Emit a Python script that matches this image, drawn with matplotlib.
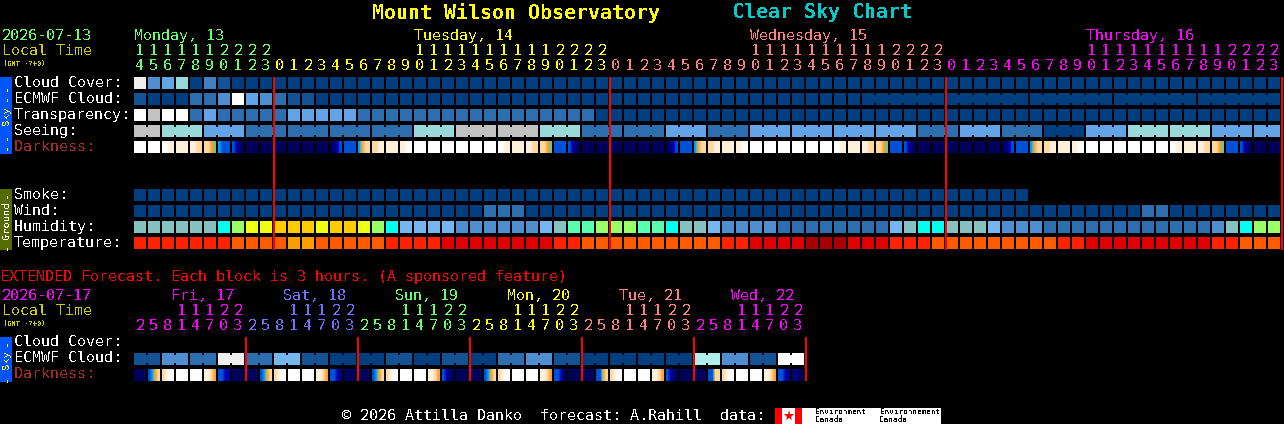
import numpy as np
import matplotlib
matplotlib.use('Agg')
import matplotlib.pyplot as plt
from matplotlib.colors import LinearSegmentedColormap

plt.rcParams['font.family'] = ['DejaVu Sans Mono']
plt.rcParams['text.antialiased'] = False
plt.rcParams['text.hinting'] = 'native'

# colour scales
CLOUD_COLORS = {0: '#003f7f', 10: '#135393', 20: '#2c6eae', 30: '#4080c0', 40: '#4f8fcf',
                50: '#63a4e7', 60: '#75b6f0', 70: '#99d9d9', 80: '#afeeee', 90: '#eeeeee',
                100: '#ffffff'}
SKY_COLORS = ['#003f7f', '#2c6eae', '#63a4e7', '#99d9d9', '#c2c2c2', '#ffffff']
WIND_COLORS = {0: '#003f7f', 1: '#2c6eae'}
HUMIDITY_COLORS = {20: '#2c6eae', 25: '#4f8fcf', 30: '#75b6f0', 35: '#85c1c1', 40: '#00ffee',
                   45: '#5cffb0', 50: '#99ff66', 55: '#eeff11', 60: '#ffcc00'}
TEMP_COLORS = {16: '#ff9d00', 18: '#ff5a00', 21: '#ff2200', 24: '#e00000', 27: '#a80000'}
DARK_COLORS = ['#00005a', '#00007c', '#0000b4', '#0050d8', '#00a0ff',
               '#80c080', '#ffa030', '#ffd8a0', '#fff0dc', '#ffffff']

# hourly forecast
HOURS = [14, 15, 16, 17, 18, 19, 20, 21, 22, 23] + list(range(24)) * 3
HOUR_COLORS = ['#66ff66'] * 10 + ['#ffff00'] * 24 + ['#ff8080'] * 24 + ['#ff00ff'] * 24

CLOUD = [90, 40, 50, 70, 0, 30, 10] + [0] * 75
ECMWF = [10, 0, 0, 0, 20, 20, 40, 100, 50, 40, 20, 10, 10] + [0] * 69
ECMWF_GROUPS = [1] * 52 + [6] * 5
TRANSPARENCY = [5, 4, 5, 5, 1, 2, 1, 1, 1, 1, 1, 2, 2, 2, 2, 2] + [1] * 17 + [0] * 49
SEEING = [4, 3, 2, 1, 1, 1, 1, 3, 4, 4, 3, 1, 1, 2, 1, 2, 2, 2, 2, 1, 2, 1, 0, 2, 3, 3, 2, 2]
SEEING_GROUPS = [2] + [3] * 26 + [2]
SMOKE = [0] * 64
WIND = [0] * 25 + [1, 1, 1] + [0] * 44 + [1, 1] + [0] * 8
HUMIDITY = [35, 35, 35, 35, 35, 35, 40, 50, 55, 55, 60, 60, 60, 55, 60, 60, 55, 50, 40, 30,
            30, 30, 30, 25, 25, 25, 25, 25, 25, 30, 35, 45, 45, 50, 50, 50, 45, 45, 40, 35,
            35, 30, 25, 25, 25, 25, 20, 20, 20, 20, 20, 20, 20, 20, 30, 35, 40, 40, 35, 35,
            35, 30, 25, 25, 25, 20, 20, 20, 20, 20, 20, 20, 20, 20, 20, 20, 20, 25, 35, 40,
            50, 50]
TEMPERATURE = [21, 21, 21, 21, 21, 21, 21, 18, 18, 18, 18, 16, 16, 18, 18, 18, 18, 18, 21, 21,
               21, 21, 24, 24, 24, 24, 24, 24, 24, 24, 21, 21, 18, 18, 18, 18, 18, 18, 18, 18,
               18, 18, 21, 21, 24, 24, 24, 24, 27, 27, 27, 24, 24, 24, 21, 21, 21, 18, 18, 18,
               18, 18, 18, 18, 18, 18, 21, 21, 24, 24, 24, 24, 24, 24, 24, 24, 24, 21, 21, 18,
               18, 18]
DARKNESS = [[9, 9, 9, 9], [9, 9, 9, 9], [9, 9, 8, 8], [8, 8, 8, 8], [8, 8, 7, 7], [7, 7, 6, 5],
            [4, 3, 3, 3], [3, 2, 1, 0], [0, 0, 0, 0], [0, 0, 0, 0], [0, 0, 0, 0], [0, 0, 0, 0],
            [0, 0, 0, 0], [0, 0, 0, 0], [0, 1, 2, 3], [3, 3, 3, 3], [4, 6, 7, 7], [7, 7, 8, 8],
            [8, 8, 8, 8], [8, 8, 9, 9], [9, 9, 9, 9], [9, 9, 9, 9], [9, 9, 9, 9], [9, 9, 9, 9],
            [9, 9, 9, 9], [9, 9, 9, 9], [9, 9, 8, 8], [8, 8, 8, 8], [8, 8, 7, 7], [7, 7, 6, 5],
            [3, 3, 3, 3], [3, 2, 1, 0], [0, 0, 0, 0], [0, 0, 0, 0], [0, 0, 0, 0], [0, 0, 0, 0],
            [0, 0, 0, 0], [0, 0, 0, 0], [0, 1, 2, 3], [3, 3, 3, 3], [4, 6, 7, 7], [7, 7, 8, 8],
            [8, 8, 8, 8], [8, 8, 9, 9], [9, 9, 9, 9], [9, 9, 9, 9], [9, 9, 9, 9], [9, 9, 9, 9],
            [9, 9, 9, 9], [9, 9, 9, 9], [9, 9, 8, 8], [8, 8, 8, 8], [8, 8, 7, 7], [7, 7, 6, 5],
            [3, 3, 3, 3], [3, 2, 1, 0], [0, 0, 0, 0], [0, 0, 0, 0], [0, 0, 0, 0], [0, 0, 0, 0],
            [0, 0, 0, 0], [0, 0, 0, 0], [0, 1, 2, 3], [3, 3, 3, 3], [4, 6, 7, 7], [7, 7, 8, 8],
            [8, 8, 8, 8], [8, 8, 9, 9], [9, 9, 9, 9], [9, 9, 9, 9], [9, 9, 9, 9], [9, 9, 9, 9],
            [9, 9, 9, 9], [9, 9, 9, 9], [9, 9, 8, 8], [8, 8, 8, 8], [8, 8, 7, 7], [7, 7, 6, 5],
            [3, 3, 3, 3], [3, 2, 1, 0], [0, 0, 0, 0], [0, 0, 0, 0]]

DAY_LABELS = ['Monday, 13', 'Tuesday, 14', 'Wednesday, 15', 'Thursday, 16']
DAY_LABEL_CELLS = [0, 20, 44, 68]
DAY_COLORS = ['#66ff66', '#ffff00', '#ff8080', '#ff00ff']

# extended forecast, 3 hour blocks
EXT_HOURS = [2, 5, 8, 11, 14, 17, 20, 23] * 6
EXT_COLORS = ['#ff00ff'] * 8 + ['#7070ff'] * 8 + ['#66ff66'] * 8 + ['#ffff00'] * 8 + \
             ['#ff8080'] * 8 + ['#ff00ff'] * 8
EXT_DAYS = ['Fri, 17', 'Sat, 18', 'Sun, 19', 'Mon, 20', 'Tue, 21', 'Wed, 22']
EXT_DAY_COLORS = ['#ff00ff', '#7070ff', '#66ff66', '#ffff00', '#ff8080', '#ff00ff']
EXT_ECMWF = [10, 40, 20, 90, 20, 60, 10, 0, 0, 10, 0, 10, 0, 20, 40, 10, 0, 0, 0, 0, 80, 40, 10, 100]
EXT_DARKNESS = [[0, 0, 0, 0], [3, 4, 6, 7], [7, 8, 9, 9], [9, 9, 9, 9], [9, 9, 9, 9], [8, 8, 7, 6],
                [3, 3, 2, 2], [0, 0, 0, 0],
                [0, 0, 0, 0], [3, 4, 6, 7], [7, 8, 9, 9], [9, 9, 9, 9], [9, 9, 9, 9], [8, 8, 7, 6],
                [3, 3, 2, 1], [0, 0, 0, 0],
                [0, 0, 0, 0], [3, 4, 6, 7], [7, 8, 9, 9], [9, 9, 9, 9], [9, 9, 9, 9], [8, 8, 7, 6],
                [3, 2, 1, 0], [0, 0, 0, 0],
                [0, 0, 0, 0], [3, 4, 6, 7], [7, 8, 9, 9], [9, 9, 9, 9], [9, 9, 9, 9], [8, 8, 7, 6],
                [3, 3, 2, 0], [0, 0, 0, 0],
                [0, 0, 0, 0], [3, 3, 6, 7], [7, 8, 9, 9], [9, 9, 9, 9], [9, 9, 9, 9], [8, 8, 7, 6],
                [3, 2, 1, 0], [0, 0, 0, 0],
                [0, 0, 0, 0], [3, 3, 7, 7], [7, 8, 9, 9], [9, 9, 9, 9], [9, 9, 9, 9], [8, 8, 7, 6],
                [3, 3, 2, 1], [1, 1, 0, 0]]

ROW_LABELS = ['Cloud Cover:', 'ECMWF Cloud:', 'Transparency:', 'Seeing:']
GROUND_LABELS = ['Smoke:', 'Wind:', 'Humidity:', 'Temperature:']
LOGO_WORDS = ['Environment', 'Environnement']

X0 = 134
PITCH = 14
CELL = 12
FS = 10.8
BG = '#000000'

fig = plt.figure(figsize=(12.84, 4.24), dpi=100, facecolor=BG)
ax = fig.add_axes([0, 0, 1, 1])
ax.set_facecolor(BG)
ax.axis('off')
dark_cmap = LinearSegmentedColormap.from_list('dark', DARK_COLORS, N=256)


def txt(x, y, s, color='white', size=FS, **kw):
    kw.setdefault('ha', 'left')
    ax.text(x, y + 1, s, color=color, fontsize=size, va='center', **kw)


def draw_row(top, colors, groups=None):
    xs = X0 + PITCH * np.arange(len(colors))
    ax.bar(xs, CELL, CELL, bottom=top, color=colors, align='edge', linewidth=0, antialiased=False)
    if groups is None:
        return
    # forecast blocks longer than one hour are joined by a short neck
    i = 0
    for n in groups:
        for j in range(i, i + n - 1):
            ax.bar(xs[j] + CELL, 8, PITCH - CELL, bottom=top + 2, color=colors[j],
                   align='edge', linewidth=0, antialiased=False)
        i += n


def draw_darkness(top, samples):
    for i, s in enumerate(samples):
        x = X0 + PITCH * i
        ax.imshow([s], cmap=dark_cmap, vmin=0, vmax=9, aspect='auto', interpolation='bilinear',
                  extent=(x, x + CELL, top + CELL, top))


def draw_hours(hours, colors, y_tens, y_units, size=FS):
    for i, (h, c) in enumerate(zip(hours, colors)):
        x = X0 + PITCH * i + CELL / 2
        if h >= 10:
            txt(x, y_tens, str(h // 10), c, size, ha='center')
        txt(x, y_units, str(h % 10), c, size, ha='center')


def side_bar(top, bottom, color, name, name_color, name_y):
    ax.bar(0, bottom - top, 12, bottom=top, color=color, align='edge', linewidth=0, antialiased=False)
    txt(6, name_y, name, name_color, 7.5, ha='center', rotation=90)


# titles
txt(372, 12, 'Mount Wilson Observatory', '#ffff00', 14.4, fontweight='bold')
txt(732, 12, 'Clear Sky Chart', '#00cccc', 14.4, fontweight='bold')

# hourly header
txt(2, 35, '2026-07-13', '#66ff66')
txt(2, 50, 'Local Time', '#cccc00')
txt(3, 62, '(GMT -7+0)', '#cccc00', 5)
for lab, cell, c in zip(DAY_LABELS, DAY_LABEL_CELLS, DAY_COLORS):
    txt(X0 + PITCH * cell, 35, lab, c)
draw_hours(HOURS, HOUR_COLORS, 50, 65)

# sky block
side_bar(77, 154, '#0055ff', 'Sky', '#ffff00', 115)
for y in [86, 96, 135, 145]:
    txt(6, y, '-', '#ffff00', 9, ha='center', rotation=90)
for i, lab in enumerate(ROW_LABELS):
    txt(14, 82 + 16 * i, lab)
txt(14, 146, 'Darkness:', '#a52a2a')

draw_row(77, [CLOUD_COLORS[v] for v in CLOUD])
draw_row(93, [CLOUD_COLORS[v] for v in ECMWF], ECMWF_GROUPS)
draw_row(109, [SKY_COLORS[v] for v in TRANSPARENCY])
seeing_cells = np.repeat(SEEING, SEEING_GROUPS)
draw_row(125, [SKY_COLORS[v] for v in seeing_cells], SEEING_GROUPS)
draw_darkness(141, DARKNESS)

# ground block
side_bar(189, 250, '#556b00', 'Ground', '#ffffff', 219)
for y in [193, 245]:
    txt(6, y, '-', '#ffffff', 9, ha='center', rotation=90)
for i, lab in enumerate(GROUND_LABELS):
    txt(14, 194 + 16 * i, lab)
draw_row(189, [CLOUD_COLORS[v] for v in SMOKE])
draw_row(205, [WIND_COLORS[v] for v in WIND])
draw_row(221, [HUMIDITY_COLORS[v] for v in HUMIDITY])
draw_row(237, [TEMP_COLORS[v] for v in TEMPERATURE])

# day separators
for k in range(4):
    x = X0 + PITCH * (10 + 24 * k)
    ax.bar(x - 1, 173, 2, bottom=77, color='#ff0000', align='edge', linewidth=0, antialiased=False)

# extended forecast
txt(0, 276, 'EXTENDED Forecast. Each block is 3 hours. (A sponsored feature)', '#ff0000')
txt(2, 295, '2026-07-17', '#ff00ff')
txt(2, 310, 'Local Time', '#cccc00')
txt(3, 322, '(GMT -7+0)', '#cccc00', 5)
for i, (lab, c) in enumerate(zip(EXT_DAYS, EXT_DAY_COLORS)):
    txt(X0 + 37 + 112 * i, 295, lab, c)
draw_hours(EXT_HOURS, EXT_COLORS, 310, 325)

side_bar(337, 382, '#0055ff', 'Sky', '#ffff00', 359)
for y in [341, 377]:
    txt(6, y, '-', '#ffff00', 9, ha='center', rotation=90)
txt(14, 341, 'Cloud Cover:')
txt(14, 357, 'ECMWF Cloud:')
txt(14, 373, 'Darkness:', '#a52a2a')
draw_row(353, [CLOUD_COLORS[v] for v in np.repeat(EXT_ECMWF, 2)], [2] * 24)
draw_darkness(369, EXT_DARKNESS)
for k in range(1, 7):
    x = X0 + PITCH * 8 * k
    ax.bar(x - 1, 44, 2, bottom=337, color='#ff0000', align='edge', linewidth=0, antialiased=False)

# footer with logos
txt(342, 415, '\u00a9 2026 Attilla Danko  forecast: A.Rahill  data:')
ax.bar(775, 16, 27, bottom=408, color='#ff0000', align='edge', linewidth=0)
ax.bar(782, 16, 13, bottom=408, color='#ffffff', align='edge', linewidth=0)
ax.plot([788.5], [416], marker='*', color='#ff0000', markersize=8, markeredgewidth=0)
ax.bar(802, 16, 139, bottom=408, color='#ffffff', align='edge', linewidth=0)
for x, word in zip([815, 880], LOGO_WORDS):
    txt(x, 411, word, '#000000', 5.5)
    txt(x, 419, 'Canada', '#000000', 5.5)

ax.set_xlim(0, 1284)
ax.set_ylim(424, 0)
fig.savefig('out.png', dpi=100, facecolor=BG)
